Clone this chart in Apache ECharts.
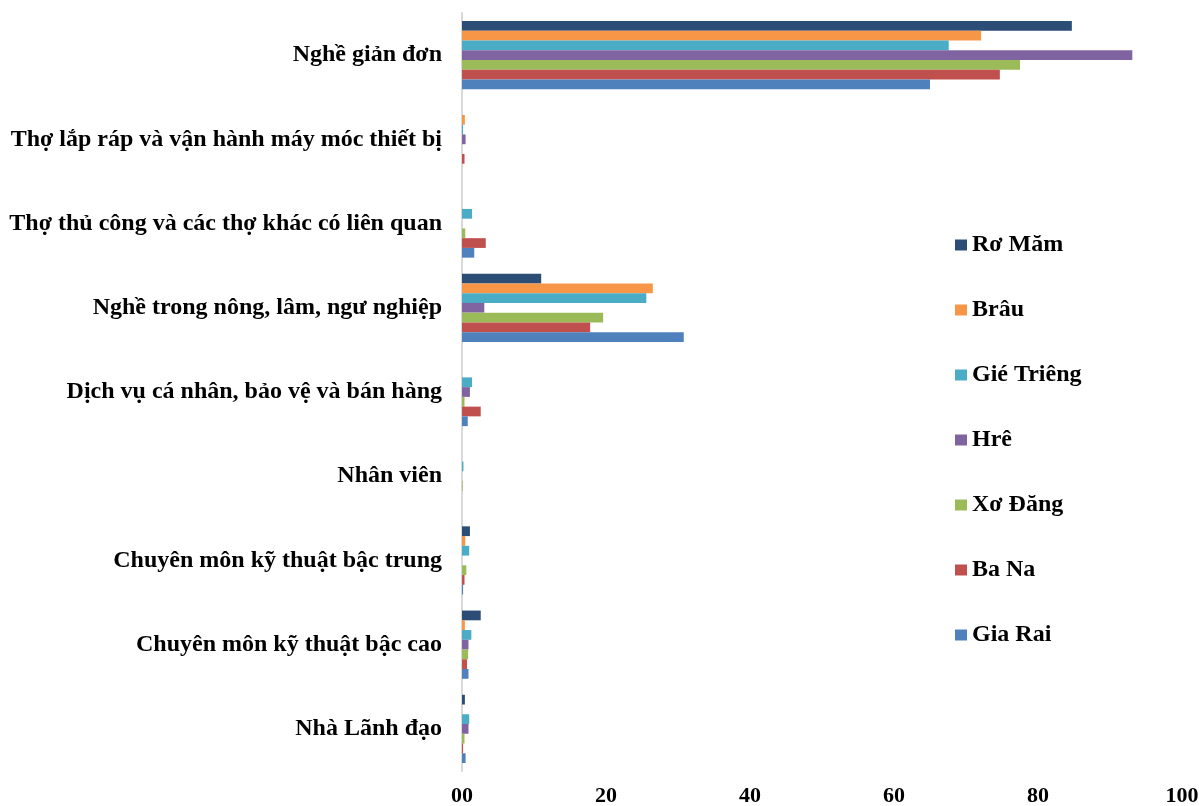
<!DOCTYPE html>
<html>
<head>
<meta charset="utf-8">
<script src="https://cdn.jsdelivr.net/npm/echarts@6/dist/echarts.min.js"></script>
<style>
  html, body { margin: 0; padding: 0; background: #fff; }
  #chart { width: 1199px; height: 806px; }
</style>
</head>
<body>
<div id="chart"></div>
<script>
// Occupation groups, bottom to top
const categories = [
  'Nhà Lãnh đạo',
  'Chuyên môn kỹ thuật bậc cao',
  'Chuyên môn kỹ thuật bậc trung',
  'Nhân viên',
  'Dịch vụ cá nhân, bảo vệ và bán hàng',
  'Nghề trong nông, lâm, ngư nghiệp',
  'Thợ thủ công và các thợ khác có liên quan',
  'Thợ lắp ráp và vận hành máy móc thiết bị',
  'Nghề giản đơn'
];

// Share (%) of workers by ethnic group, same order as categories
const roMam     = [0.4, 2.6, 1.1, 0,    0,   11.0, 0,   0,    84.7];
const brau      = [0,   0.4, 0.45, 0,   0,   26.5, 0,   0.4,  72.1];
const gieTrieng = [1.0, 1.3, 1.0, 0.2,  1.4, 25.6, 1.4, 0.15, 67.6];
const hre       = [0.9, 0.9, 0,   0,    1.1, 3.1,  0,   0.5,  93.1];
const xoDang    = [0.35, 0.85, 0.6, 0.1, 0.35, 19.6, 0.45, 0, 77.5];
const baNa      = [0.15, 0.7, 0.35, 0,  2.6, 17.8, 3.3, 0.35, 74.7];
const giaRai    = [0.5, 0.9, 0.15, 0,   0.8, 30.8, 1.7, 0,    65.0];

const xTickLabels = ['00', '20', '40', '60', '80', '100'];

// Listed top-to-bottom within each group, same as the legend
const seriesDefs = [
  { name: 'Rơ Măm',     data: roMam,     color: '#2C4D75' },
  { name: 'Brâu',       data: brau,      color: '#F79646' },
  { name: 'Gié Triêng', data: gieTrieng, color: '#4BACC6' },
  { name: 'Hrê',        data: hre,       color: '#8064A2' },
  { name: 'Xơ Đăng',    data: xoDang,    color: '#9BBB59' },
  { name: 'Ba Na',      data: baNa,      color: '#C0504D' },
  { name: 'Gia Rai',    data: giaRai,    color: '#4F81BD' }
];

const font = 'Liberation Serif, "Times New Roman", serif';

const chart = echarts.init(document.getElementById('chart'));
chart.setOption({
  animation: false,
  textStyle: { fontFamily: font },
  grid: {
    left: 462, right: 17, top: 13, bottom: 35,
    containLabel: false,
    outerBoundsMode: 'none'
  },
  legend: {
    orient: 'vertical',
    left: 950,
    top: 228,
    itemWidth: 12,
    itemHeight: 11,
    itemGap: 41,
    icon: 'rect',
    data: seriesDefs.map(s => s.name),
    textStyle: {
      fontFamily: font, fontSize: 24, fontWeight: 'bold', color: '#000',
      lineHeight: 24
    }
  },
  xAxis: {
    type: 'value',
    min: 0,
    max: 100,
    interval: 20,
    axisLine: { show: false },
    axisTick: { show: false },
    splitLine: { show: false },
    axisLabel: {
      margin: 14,
      color: '#000',
      fontFamily: font,
      fontSize: 22,
      fontWeight: 'bold',
      formatter: v => xTickLabels[Math.round(v / 20)]
    }
  },
  yAxis: {
    type: 'category',
    data: categories,
    axisLine: { show: true, lineStyle: { color: '#D9D9D9', width: 2 } },
    axisTick: { show: false },
    splitLine: { show: false },
    axisLabel: {
      margin: 20,
      color: '#000',
      fontFamily: font,
      fontSize: 24,
      fontWeight: 'bold'
    }
  },
  series: seriesDefs.map(s => ({
    name: s.name,
    type: 'bar',
    data: s.data,
    barGap: '0%',
    barCategoryGap: '19%',
    itemStyle: { color: s.color }
  }))
});
</script>
</body>
</html>
